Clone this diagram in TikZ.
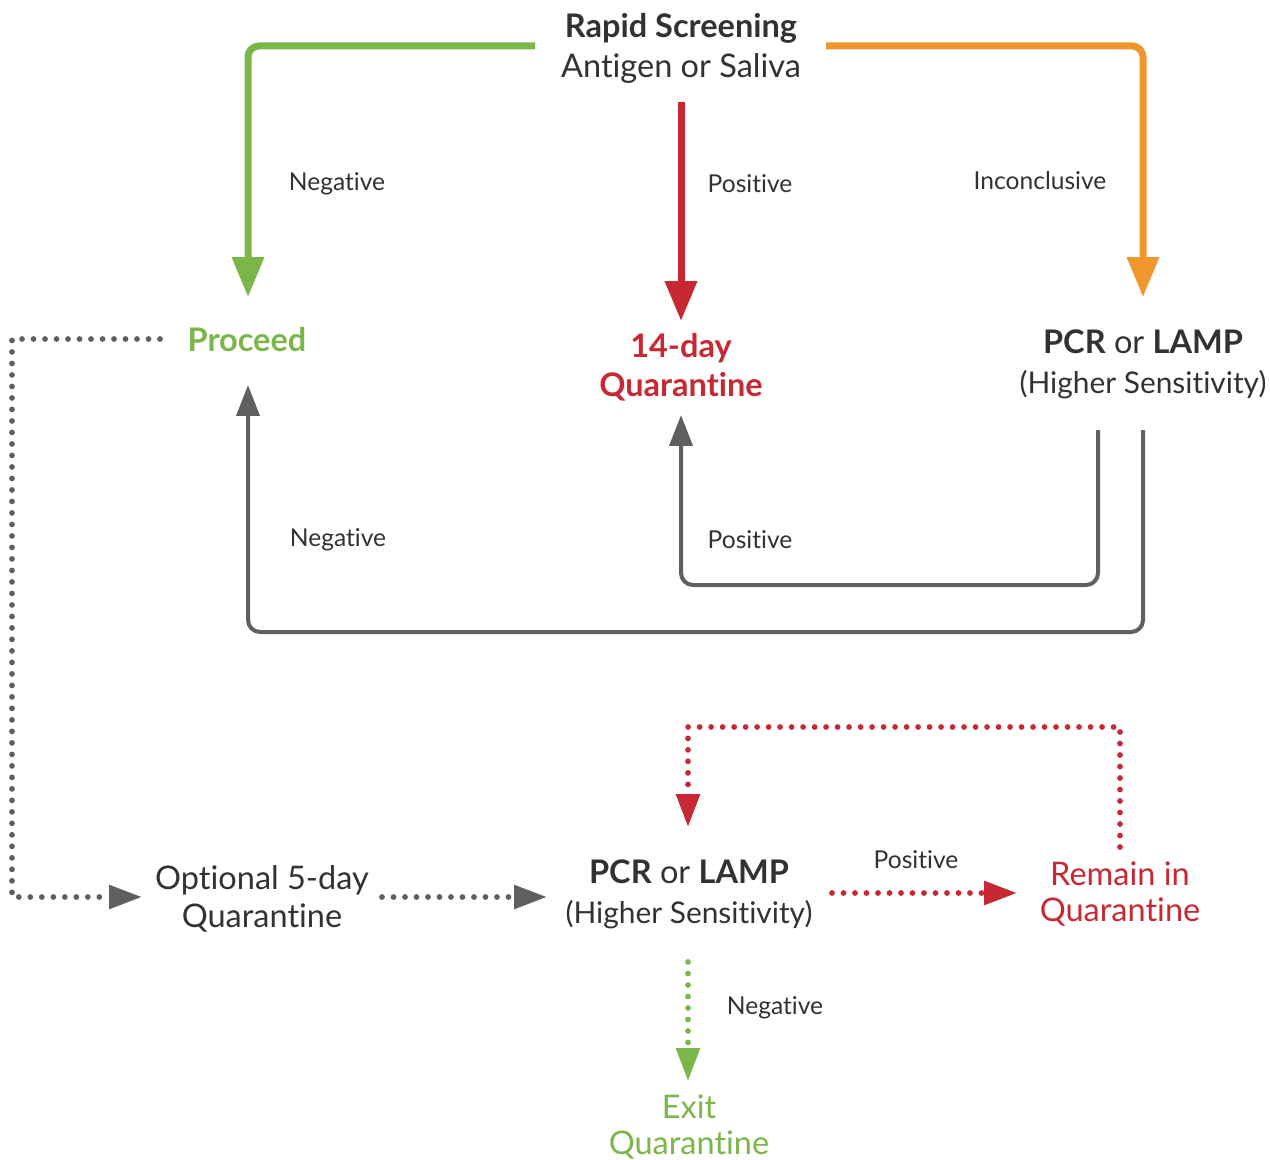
\documentclass[tikz,border=0pt]{standalone}
\usepackage{fontspec}
\setmainfont{Lato}[Ligatures={NoCommon}]
\usetikzlibrary{arrows.meta}
\definecolor{cgreen}{RGB}{122,182,72}
\definecolor{cred}{RGB}{200,40,52}
\definecolor{corange}{RGB}{240,150,46}
\definecolor{cgray}{RGB}{95,95,95}
\definecolor{ctext}{RGB}{50,50,50}
\tikzset{
  big/.style={font=\fontsize{18.5}{22}\selectfont, text=ctext, align=center, inner sep=0pt},
  sens/.style={big, font=\fontsize{17}{22}\selectfont},
  lbl/.style={font=\fontsize{14}{17}\selectfont, text=ctext, inner sep=0pt},
  thickarrow/.style={line width=0.14cm, rounded corners=0.22cm, -{Triangle[length=0.8cm,width=0.62cm]}},
  grayarrow/.style={cgray, line width=0.08cm, rounded corners=0.24cm, -{Triangle[length=0.62cm,width=0.46cm]}},
  dotline/.style={line width=0.115cm, line cap=round, dash pattern=on 0pt off 0.23cm, -{Triangle[length=0.66cm,width=0.46cm]}}
}
\begin{document}
\begin{tikzpicture}[x=0.02cm,y=-0.02cm]
\useasboundingbox (0,0) rectangle (1270,1159);
% nodes
\node[big] (rs1) at (681,28) {\textbf{Rapid Screening}};
\node[big] (rs2) at (681,68) {Antigen or Saliva};
\node[big, text=cgreen] (proceed) at (247,340) {\textbf{Proceed}};
\node[big, text=cred] (q14a) at (681,348) {\textbf{14-day}};
\node[big, text=cred] (q14b) at (681,387) {\textbf{Quarantine}};
\node[big] (pcr1a) at (1143,342) {\textbf{PCR} or \textbf{LAMP}};
\node[sens] (pcr1b) at (1143,385) {(Higher Sensitivity)};
\node[big] (opt1) at (262,880) {Optional 5-day};
\node[big] (opt2) at (262,918) {Quarantine};
\node[big] (pcr2a) at (689,872) {\textbf{PCR} or \textbf{LAMP}};
\node[sens] (pcr2b) at (689,915) {(Higher Sensitivity)};
\node[big, text=cred] (rem1) at (1120,874) {Remain in};
\node[big, text=cred] (rem2) at (1120,912) {Quarantine};
\node[big, text=cgreen] (exit1) at (689,1107) {Exit};
\node[big, text=cgreen] (exit2) at (689,1145) {Quarantine};
% labels
\node[lbl] (l1) at (337,184) {Negative};
\node[lbl] (l2) at (750,184) {Positive};
\node[lbl] (l3) at (1040,181) {Inconclusive};
\node[lbl] (l4) at (338,540) {Negative};
\node[lbl] (l5) at (750,540) {Positive};
\node[lbl] (l6) at (916,860) {Positive};
\node[lbl] (l7) at (775,1008) {Negative};
% coordinates
\coordinate (gS) at (535,46);
\coordinate (gT) at (248,297);
\coordinate (rS) at (681,102);
\coordinate (rT) at (681,321);
\coordinate (oS) at (826,46);
\coordinate (oT) at (1143,297);
\coordinate (p1S) at (1098,430);
\coordinate (p1T) at (681,415);
\coordinate (p2S) at (1143,430);
\coordinate (p2T) at (248,385);
\coordinate (dS) at (160,339);
\coordinate (dT) at (142,897);
\coordinate (d2S) at (382,897);
\coordinate (d2T) at (547,897);
\coordinate (rdS) at (832,893);
\coordinate (rdT) at (1017,893);
\coordinate (rlS) at (1120,847);
\coordinate (rlT) at (688,827);
\coordinate (gdS) at (688,962);
\coordinate (gdT) at (688,1081);
% connectors
\draw[thickarrow, cgreen] (gS) -| (gT);
\draw[thickarrow, cred] (rS) -- (rT);
\draw[thickarrow, corange] (oS) -| (oT);
\draw[grayarrow] (p1S) |- (900,585) -| (p1T);
\draw[grayarrow] (p2S) |- (600,632) -| (p2T);
\draw[dotline, cgray] (dS) -| (12,600) |- (dT);
\draw[dotline, cgray] (d2S) -- (d2T);
\draw[dotline, cred] (rdS) -- (rdT);
\draw[dotline, cred] (rlS) |- (900,727) -| (rlT);
\draw[dotline, cgreen] (gdS) -- (gdT);
\end{tikzpicture}
\end{document}
